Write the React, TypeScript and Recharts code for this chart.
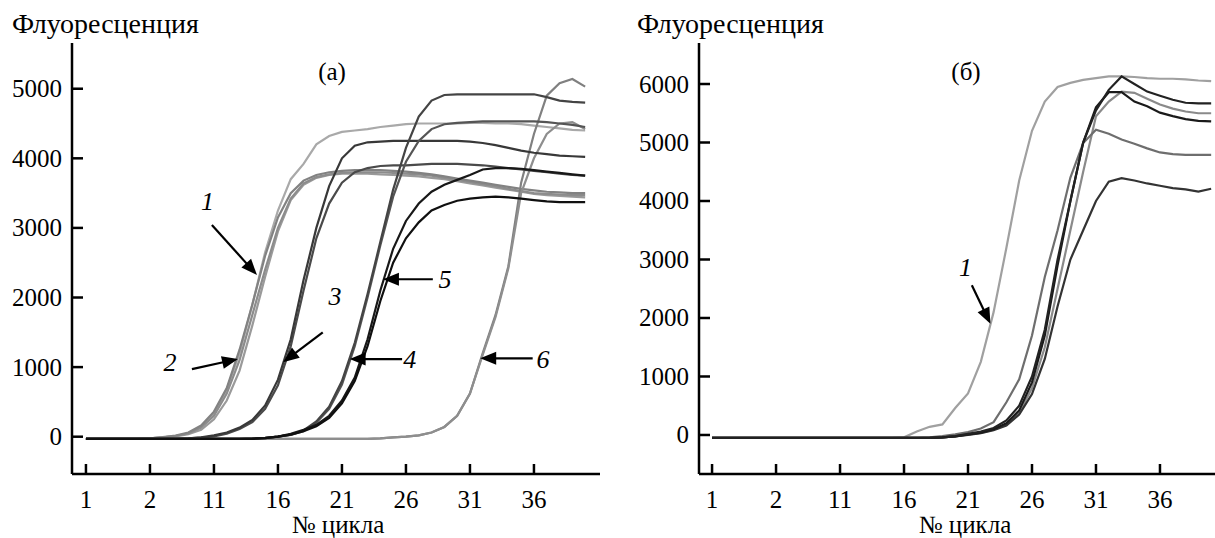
import React from 'react';
import { LineChart, Line, XAxis, YAxis, ReferenceLine, ReferenceDot } from 'recharts';

const cycles = [1,2,3,4,5,6,7,8,9,10,11,12,13,14,15,16,17,18,19,20,21,22,23,24,25,26,27,28,29,30,31,32,33,34,35,36,37,38,39,40];
const xTickValues = [1, 6, 11, 16, 21, 26, 31, 36];
const xTickLabels = ['1', '2', '11', '16', '21', '26', '31', '36'];
const yTicksA = [0, 1000, 2000, 3000, 4000, 5000];
const yTicksB = [0, 1000, 2000, 3000, 4000, 5000, 6000];

// Panel (а)
const a1A = [-30,-30,-30,-30,-30,-25,-10,10,50,150,330,680,1200,1900,2650,3250,3700,3920,4200,4320,4380,4400,4420,4450,4470,4490,4500,4500,4500,4500,4510,4510,4500,4500,4490,4470,4450,4430,4410,4400];
const a1B = [-30,-30,-30,-30,-30,-25,-10,10,45,130,300,620,1100,1750,2400,3000,3420,3640,3730,3770,3790,3800,3800,3800,3790,3780,3770,3750,3720,3690,3660,3630,3600,3560,3530,3500,3490,3480,3470,3470];
const a1C = [-30,-30,-30,-30,-30,-28,-15,5,35,100,250,520,950,1600,2300,2950,3400,3620,3720,3760,3780,3780,3780,3770,3760,3750,3740,3720,3700,3670,3640,3610,3580,3550,3520,3490,3470,3460,3450,3440];
const a1D = [-30,-30,-30,-30,-30,-22,-5,15,60,160,360,700,1250,1900,2600,3150,3500,3680,3760,3800,3820,3830,3830,3830,3820,3810,3790,3770,3740,3710,3680,3650,3620,3590,3560,3540,3520,3510,3500,3500];
const a3A = [-30,-30,-30,-30,-30,-30,-30,-30,-25,-10,20,60,130,240,450,820,1400,2250,3000,3600,4000,4180,4230,4240,4250,4250,4250,4250,4250,4250,4240,4220,4190,4150,4110,4080,4060,4040,4030,4020];
const a3B = [-30,-30,-30,-30,-30,-30,-30,-30,-25,-12,5,45,110,210,400,740,1300,2100,2850,3350,3650,3800,3860,3890,3900,3900,3910,3920,3920,3920,3910,3900,3880,3860,3840,3820,3800,3780,3760,3750];
const a5A = [-30,-30,-30,-30,-30,-30,-30,-30,-30,-30,-30,-30,-30,-25,-15,0,30,90,220,430,800,1350,2050,2800,3550,4150,4600,4830,4910,4920,4920,4920,4920,4920,4920,4920,4880,4830,4810,4800];
const a5B = [-30,-30,-30,-30,-30,-30,-30,-30,-30,-30,-30,-30,-30,-25,-15,0,25,80,200,400,750,1300,2000,2750,3450,3950,4250,4420,4490,4510,4520,4530,4530,4530,4530,4530,4520,4500,4480,4450];
const a4A = [-30,-30,-30,-30,-30,-30,-30,-30,-30,-30,-30,-30,-30,-30,-20,0,40,100,170,300,520,850,1400,2100,2700,3100,3350,3520,3620,3690,3760,3840,3860,3860,3850,3830,3810,3790,3770,3750];
const a4B = [-30,-30,-30,-30,-30,-30,-30,-30,-30,-30,-30,-30,-30,-30,-20,0,30,80,150,270,480,800,1300,1950,2500,2850,3080,3250,3330,3390,3420,3440,3450,3440,3420,3400,3380,3370,3370,3370];
const a6A = [-30,-30,-30,-30,-30,-30,-30,-30,-30,-30,-30,-30,-30,-30,-30,-30,-30,-30,-30,-30,-30,-30,-30,-25,-10,0,20,60,140,300,620,1200,1750,2450,3650,4350,4900,5080,5140,5030];
const a6B = [-30,-30,-30,-30,-30,-30,-30,-30,-30,-30,-30,-30,-30,-30,-30,-30,-30,-30,-30,-30,-30,-30,-30,-25,-10,0,20,60,140,300,620,1180,1720,2420,3500,4000,4350,4500,4520,4420];

// Panel (б)
const b1 = [-50,-50,-50,-50,-50,-50,-50,-50,-50,-50,-50,-50,-50,-50,-50,-40,60,140,180,460,710,1250,2100,3200,4350,5200,5700,5950,6020,6070,6100,6130,6130,6120,6100,6090,6090,6080,6060,6050];
const b2 = [-50,-50,-50,-50,-50,-50,-50,-50,-50,-50,-50,-50,-50,-50,-50,-50,-50,-40,-20,10,50,110,220,560,950,1700,2700,3500,4400,4990,5220,5150,5050,4980,4900,4830,4800,4790,4790,4790];
const b3 = [-50,-50,-50,-50,-50,-50,-50,-50,-50,-50,-50,-50,-50,-50,-50,-50,-50,-50,-40,-20,20,60,120,250,500,1000,1800,3000,4000,5000,5550,5900,6130,6000,5870,5800,5730,5680,5670,5670];
const b4 = [-50,-50,-50,-50,-50,-50,-50,-50,-50,-50,-50,-50,-50,-50,-50,-50,-50,-50,-40,-25,10,40,100,200,420,900,1700,2900,4000,5000,5600,5860,5860,5700,5620,5510,5450,5400,5370,5360];
const b5 = [-50,-50,-50,-50,-50,-50,-50,-50,-50,-50,-50,-50,-50,-50,-50,-50,-50,-50,-40,-25,5,35,90,180,380,800,1500,2500,3500,4500,5450,5700,5870,5850,5750,5650,5580,5530,5500,5500];
const b6 = [-50,-50,-50,-50,-50,-50,-50,-50,-50,-50,-50,-50,-50,-50,-50,-50,-50,-50,-40,-25,0,30,80,160,350,700,1300,2200,3000,3500,4000,4330,4390,4350,4300,4260,4220,4200,4160,4210];

const seriesA = [
  { key: 'a1A', values: a1A, color: '#a9a9a9' },
  { key: 'a1C', values: a1C, color: '#9a9a9a' },
  { key: 'a1B', values: a1B, color: '#8c8c8c' },
  { key: 'a1D', values: a1D, color: '#828282' },
  { key: 'a6A', values: a6A, color: '#808080' },
  { key: 'a6B', values: a6B, color: '#8e8e8e' },
  { key: 'a3B', values: a3B, color: '#4a4a4a' },
  { key: 'a3A', values: a3A, color: '#383838' },
  { key: 'a5B', values: a5B, color: '#555555' },
  { key: 'a5A', values: a5A, color: '#444444' },
  { key: 'a4A', values: a4A, color: '#181818' },
  { key: 'a4B', values: a4B, color: '#101010' },
];
const seriesB = [
  { key: 'b1', values: b1, color: '#a0a0a0' },
  { key: 'b5', values: b5, color: '#8a8a8a' },
  { key: 'b2', values: b2, color: '#6e6e6e' },
  { key: 'b6', values: b6, color: '#333333' },
  { key: 'b4', values: b4, color: '#1a1a1a' },
  { key: 'b3', values: b3, color: '#222222' },
];

// annotation arrows: label position, tail, tip (data coordinates)
const arrowsA = [
  { label: '1', lx: 10.5, ly: 3376, x1: 10.84, y1: 3042, x2: 14.36, y2: 2323 },
  { label: '2', lx: 7.56, ly: 1058, x1: 9.28, y1: 970, x2: 12.88, y2: 1116 },
  { label: '3', lx: 20.45, ly: 2007, x1: 19.5, y1: 1500, x2: 16.4, y2: 1070 },
  { label: '4', lx: 26.3, ly: 1102, x1: 25.7, y1: 1116, x2: 21.6, y2: 1116 },
  { label: '5', lx: 29.05, ly: 2251, x1: 28.1, y1: 2262, x2: 24.2, y2: 2262 },
  { label: '6', lx: 36.7, ly: 1102, x1: 35.9, y1: 1126, x2: 31.8, y2: 1126 },
];
const arrowsB = [
  { label: '1', lx: 20.8, ly: 2850, x1: 21.3, y1: 2560, x2: 22.75, y2: 1900 },
];

const FONT = '"Liberation Serif", "DejaVu Serif", "Times New Roman", Times, serif';

const buildData = (series: { key: string; values: number[] }[]) =>
  cycles.map((c, i) => {
    const row: Record<string, number> = { cycle: c };
    series.forEach((s) => { row[s.key] = s.values[i]; });
    return row;
  });

const dataA = buildData(seriesA);
const dataB = buildData(seriesB);

const YTick = (props: any) => {
  const { x, y, payload } = props;
  return (
    <g>
      <line x1={x} y1={y} x2={x + 11} y2={y} stroke="#000" strokeWidth={2.5} />
      <text x={x - 10} y={y + 8.5} textAnchor="end" style={{ fontFamily: FONT, fontSize: 25 }} fill="#000">
        {payload.value}
      </text>
    </g>
  );
};

const XTick = (props: any) => {
  const { x, y, payload } = props;
  const idx = xTickValues.indexOf(payload.value);
  return (
    <g>
      <line x1={x} y1={y} x2={x} y2={y - 10} stroke="#000" strokeWidth={2.5} />
      <text x={x} y={y + 34} textAnchor="middle" style={{ fontFamily: FONT, fontSize: 25 }} fill="#000">
        {idx >= 0 ? xTickLabels[idx] : payload.value}
      </text>
    </g>
  );
};

const ArrowShape = (p: any) => {
  const { x1, y1, x2, y2 } = p;
  const dx = x2 - x1;
  const dy = y2 - y1;
  const len = Math.hypot(dx, dy) || 1;
  const ux = dx / len;
  const uy = dy / len;
  const hl = 16;
  const hw = 6.5;
  const bx = x2 - ux * hl;
  const by = y2 - uy * hl;
  const pts = `${x2},${y2} ${bx - uy * hw},${by + ux * hw} ${bx + uy * hw},${by - ux * hw}`;
  return (
    <g>
      <line x1={x1} y1={y1} x2={bx + ux * 2} y2={by + uy * 2} stroke="#000" strokeWidth={2.2} />
      <polygon points={pts} fill="#000" />
    </g>
  );
};

const makeLabelShape = (text: string) => (p: any) => (
  <text x={p.cx} y={p.cy + 8} textAnchor="middle" style={{ fontFamily: FONT, fontSize: 26, fontStyle: 'italic' }} fill="#000">
    {text}
  </text>
);

const renderArrows = (arrows: typeof arrowsA, prefix: string) => {
  const out: React.ReactNode[] = [];
  arrows.forEach((a, i) => {
    out.push(
      <ReferenceLine
        key={`${prefix}l${i}`}
        segment={[{ x: a.x1, y: a.y1 }, { x: a.x2, y: a.y2 }]}
        ifOverflow="visible"
        shape={ArrowShape}
      />
    );
    out.push(
      <ReferenceDot key={`${prefix}d${i}`} x={a.lx} y={a.ly} r={1} ifOverflow="visible" shape={makeLabelShape(a.label)} />
    );
  });
  return out;
};

const Panel = (props: {
  data: any[];
  series: { key: string; color: string }[];
  width: number;
  xDomain: [number, number];
  yDomain: [number, number];
  yTicks: number[];
  arrows: typeof arrowsA;
  prefix: string;
}) => (
  <LineChart width={props.width} height={538} data={props.data} margin={{ top: 43, right: 0, bottom: 0, left: 0 }}>
    <XAxis
      dataKey="cycle"
      type="number"
      domain={props.xDomain}
      allowDataOverflow
      ticks={xTickValues}
      interval={0}
      height={64}
      tickSize={0}
      tickMargin={0}
      tickLine={false}
      tick={<XTick />}
      axisLine={{ stroke: '#000', strokeWidth: 2.5 }}
    />
    <YAxis
      type="number"
      domain={props.yDomain}
      allowDataOverflow
      ticks={props.yTicks}
      interval={0}
      width={72}
      tickSize={0}
      tickMargin={0}
      tickLine={false}
      tick={<YTick />}
      axisLine={{ stroke: '#000', strokeWidth: 2.5 }}
    />
    {props.series.map((s) => (
      <Line
        key={s.key}
        dataKey={s.key}
        type="linear"
        stroke={s.color}
        strokeWidth={2.2}
        dot={false}
        activeDot={false}
        isAnimationActive={false}
      />
    ))}
    {renderArrows(props.arrows, props.prefix)}
  </LineChart>
);

export default function App() {
  const ts = (size: number) => ({ fontFamily: FONT, fontSize: size });
  return (
    <div style={{ position: 'absolute', left: 0, top: 0, width: 1215, height: 538, background: '#fff', overflow: 'hidden', fontFamily: FONT }}>
      <div style={{ position: 'absolute', left: 0, top: 0 }}>
        <Panel data={dataA} series={seriesA} width={600} xDomain={[-0.09, 41.16]} yDomain={[-536, 5657]} yTicks={yTicksA} arrows={arrowsA} prefix="a" />
      </div>
      <div style={{ position: 'absolute', left: 627, top: 0 }}>
        <Panel data={dataB} series={seriesB} width={588} xDomain={[-0.02, 40.3]} yDomain={[-667, 6701]} yTicks={yTicksB} arrows={arrowsB} prefix="b" />
      </div>
      <svg width={1215} height={538} style={{ position: 'absolute', left: 0, top: 0, pointerEvents: 'none' }}>
        <text x={12} y={33} style={ts(28)} fill="#000">Флуоресценция</text>
        <text x={637} y={33} style={ts(28)} fill="#000">Флуоресценция</text>
        <text x={332} y={80} style={ts(25)} textAnchor="middle" fill="#000">(а)</text>
        <text x={966} y={80} style={ts(25)} textAnchor="middle" fill="#000">(б)</text>
        <text x={338} y={533} style={ts(25)} textAnchor="middle" fill="#000">№ цикла</text>
        <text x={965} y={533} style={ts(25)} textAnchor="middle" fill="#000">№ цикла</text>
      </svg>
    </div>
  );
}
